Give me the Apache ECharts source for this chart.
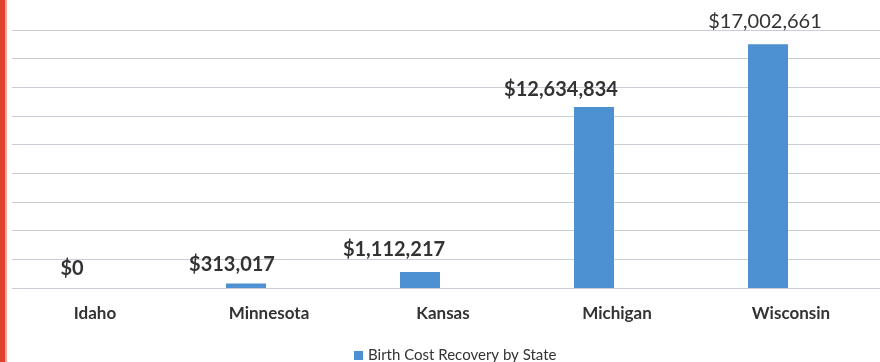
<!DOCTYPE html>
<html>
<head>
<meta charset="utf-8">
<script src="https://cdn.jsdelivr.net/npm/echarts@6/dist/echarts.min.js"></script>
<style>
  html, body { margin: 0; padding: 0; background: #fff; }
  #chart { width: 880px; height: 362px; }
</style>
</head>
<body>
<div id="chart"></div>
<script>
// data
const states = ['Idaho', 'Minnesota', 'Kansas', 'Michigan', 'Wisconsin'];
const recovery = [0, 313017, 1112217, 12634834, 17002661];
const seriesName = 'Birth Cost Recovery by State';

// the scan is a little skewed, so labels sit off the bar centres
const labelShift = [[0, 0], [-14, 0], [-26, -4], [-33, 2], [-3, -4]];

const fmt = v => '$' + v.toLocaleString('en-US');
const font = 'Lato, "Open Sans", sans-serif';

const chart = echarts.init(document.getElementById('chart'));
chart.setOption({
  animation: false,
  textStyle: { fontFamily: font },
  graphic: [
    { type: 'rect', left: 0, top: 0, shape: { width: 5, height: 362 }, style: { fill: '#e0402e' } },
    { type: 'rect', left: 5, top: 0, shape: { width: 2, height: 362 }, style: { fill: '#f2a79c' } }
  ],
  legend: {
    top: 343,
    left: 349,
    itemWidth: 9,
    itemHeight: 9,
    itemGap: 3,
    icon: 'rect',
    textStyle: { fontSize: 15, color: '#333', fontFamily: font },
    data: [seriesName]
  },
  grid: [
    // gridlines only
    { left: 12, right: 0, top: 30, bottom: 74, outerBoundsMode: 'none' },
    // bars
    { left: -15, right: 25, top: 30, bottom: 74, outerBoundsMode: 'none' }
  ],
  xAxis: [
    { gridIndex: 0, type: 'value', show: false },
    {
      gridIndex: 1,
      type: 'category',
      data: states,
      axisLine: { show: false },
      axisTick: { show: false },
      axisLabel: {
        margin: 17,
        padding: [0, 0, 0, 46],
        fontSize: 17,
        fontWeight: 'bold',
        color: '#333',
        fontFamily: font
      }
    }
  ],
  yAxis: [
    {
      gridIndex: 0,
      type: 'value',
      min: 0, max: 18000000, interval: 2000000,
      axisLabel: { show: false },
      axisLine: { show: false },
      axisTick: { show: false },
      splitLine: { lineStyle: { color: '#c9cdd6', width: 1 } }
    },
    {
      gridIndex: 1,
      type: 'value',
      min: 0, max: 18000000,
      show: false,
      splitLine: { show: false }
    }
  ],
  series: [{
    name: seriesName,
    type: 'bar',
    xAxisIndex: 1,
    yAxisIndex: 1,
    barWidth: 40,
    itemStyle: { color: '#4d91d2' },
    data: recovery.map((v, i) => ({
      value: v,
      label: {
        offset: labelShift[i],
        fontWeight: i === recovery.length - 1 ? 'normal' : 'bold'
      }
    })),
    label: {
      show: true,
      position: 'top',
      distance: 9,
      fontSize: 20,
      color: '#333',
      fontFamily: font,
      formatter: p => fmt(p.value)
    }
  }]
});
</script>
</body>
</html>
